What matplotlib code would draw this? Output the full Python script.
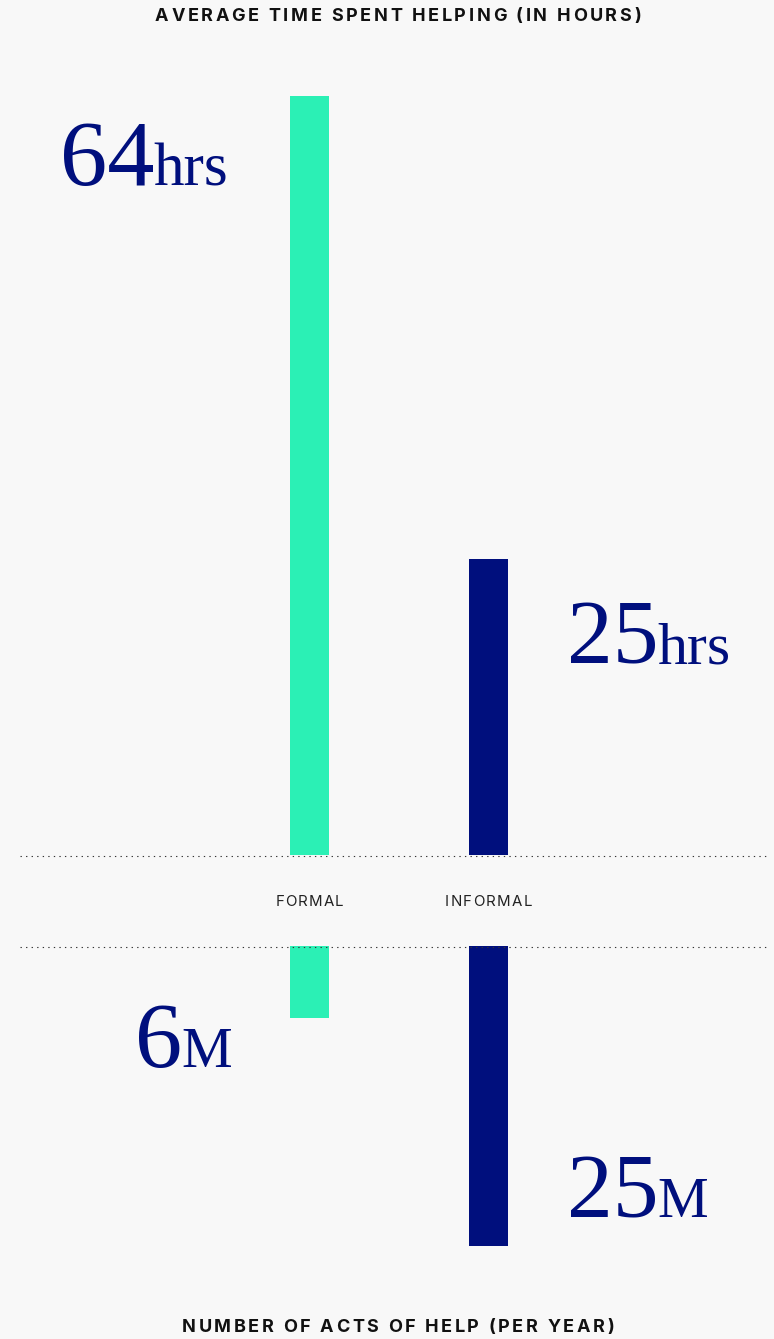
import matplotlib
matplotlib.use("Agg")
import matplotlib.pyplot as plt
from matplotlib.lines import Line2D
from matplotlib.font_manager import FontProperties, findfont, get_font
from matplotlib.ft2font import LOAD_NO_HINTING

# ---- data ----
categories = ["FORMAL", "INFORMAL"]
hours = [64, 25]
acts_millions = [6, 25]
hour_labels = ["64", "25"]
act_labels = ["6", "25"]
hour_suffix = "hrs"
act_suffix = "M"
title_top = "AVERAGE TIME SPENT HELPING (IN HOURS)"
title_bottom = "NUMBER OF ACTS OF HELP (PER YEAR)"

GREEN = "#2bf0b5"
NAVY = "#000f7d"
BG = "#f8f8f8"
colors = [GREEN, NAVY]

W, H = 774, 1339
DPI = 100
fig = plt.figure(figsize=(W / DPI, H / DPI), dpi=DPI, facecolor=BG)


def fy(py):
    return 1 - py / H


# category positions: 0, 1 -> pixel centers 309.5, 488.5
ppu = 179.0
x_lo = -309.5 / ppu
x_hi = (W - 309.5) / ppu
bw = 39 / ppu
xs = list(range(len(categories)))

# top axes: baseline at y=855, top at y=96
ax1 = fig.add_axes([0, fy(855), 1, (855 - 96) / H])
ax1.bar(xs, hours, width=bw, color=colors)
ax1.set_xlim(x_lo, x_hi)
ax1.set_ylim(0, max(hours))
ax1.axis("off")

# bottom axes: top at y=946, 12 px per million
ax2 = fig.add_axes([0, fy(946 + 25 * 12), 1, 25 * 12 / H])
ax2.bar(xs, acts_millions, width=bw, color=colors)
ax2.set_xlim(x_lo, x_hi)
ax2.set_ylim(25, 0)
ax2.axis("off")

# dotted separator lines
for py in (855.5, 946.5):
    fig.add_artist(Line2D([20 / W, 770 / W], [fy(py), fy(py)], transform=fig.transFigure,
                          color="#333333", lw=0.8, linestyle=(0, (1.2, 3.8))))


def spaced_text(cx, cy, s, size, weight, target_width, color, family="Inter"):
    """Draw letter-spaced text centred at pixel (cx, cy) spanning target_width px."""
    prop = FontProperties(family=family, weight=weight, size=size)
    font = get_font(findfont(prop))
    font.set_size(size, DPI)
    adv = []
    for ch in s:
        g = font.load_char(ord(ch), flags=LOAD_NO_HINTING)
        adv.append(g.linearHoriAdvance / 65536)
    natural_total = sum(adv)
    spacing = (target_width - natural_total) / (len(s) - 1)
    x = cx - target_width / 2
    for ch, a in zip(s, adv):
        if ch != " ":
            fig.text(x / W, fy(cy), ch, ha="left", va="center_baseline",
                     fontproperties=prop, color=color)
        x += a + spacing


# titles
spaced_text(398, 14.5, title_top, 13.0, "bold", 486, "#111111")
spaced_text(398, 1325.5, title_bottom, 13.0, "bold", 432, "#111111")

# category labels
cat_widths = [68, 87]
for x, c, w in zip(xs, categories, cat_widths):
    xp = (x - x_lo) / (x_hi - x_lo) * W
    spaced_text(xp, 900, c, 10.8, "normal", w, "#222222")

# big numbers
serif = "Liberation Serif"
renderer = fig.canvas.get_renderer()


def big_label(px, py, num, suffix, num_size, suf_size):
    t = fig.text(px / W, fy(py), num, ha="left", va="baseline", fontsize=num_size,
                 family=serif, color=NAVY)
    bb = t.get_window_extent(renderer=renderer)
    fig.text(bb.x1 / W - 1 / W, fy(py), suffix, ha="left", va="baseline",
             fontsize=suf_size, family=serif, color=NAVY)


big_label(60, 185, hour_labels[0], hour_suffix, 68, 44)
big_label(567, 663, hour_labels[1], hour_suffix, 66, 43)
big_label(135, 1067, act_labels[0], act_suffix, 68, 41)
big_label(567, 1217, act_labels[1], act_suffix, 66, 41)

fig.savefig("out.png", dpi=DPI, facecolor=BG)
